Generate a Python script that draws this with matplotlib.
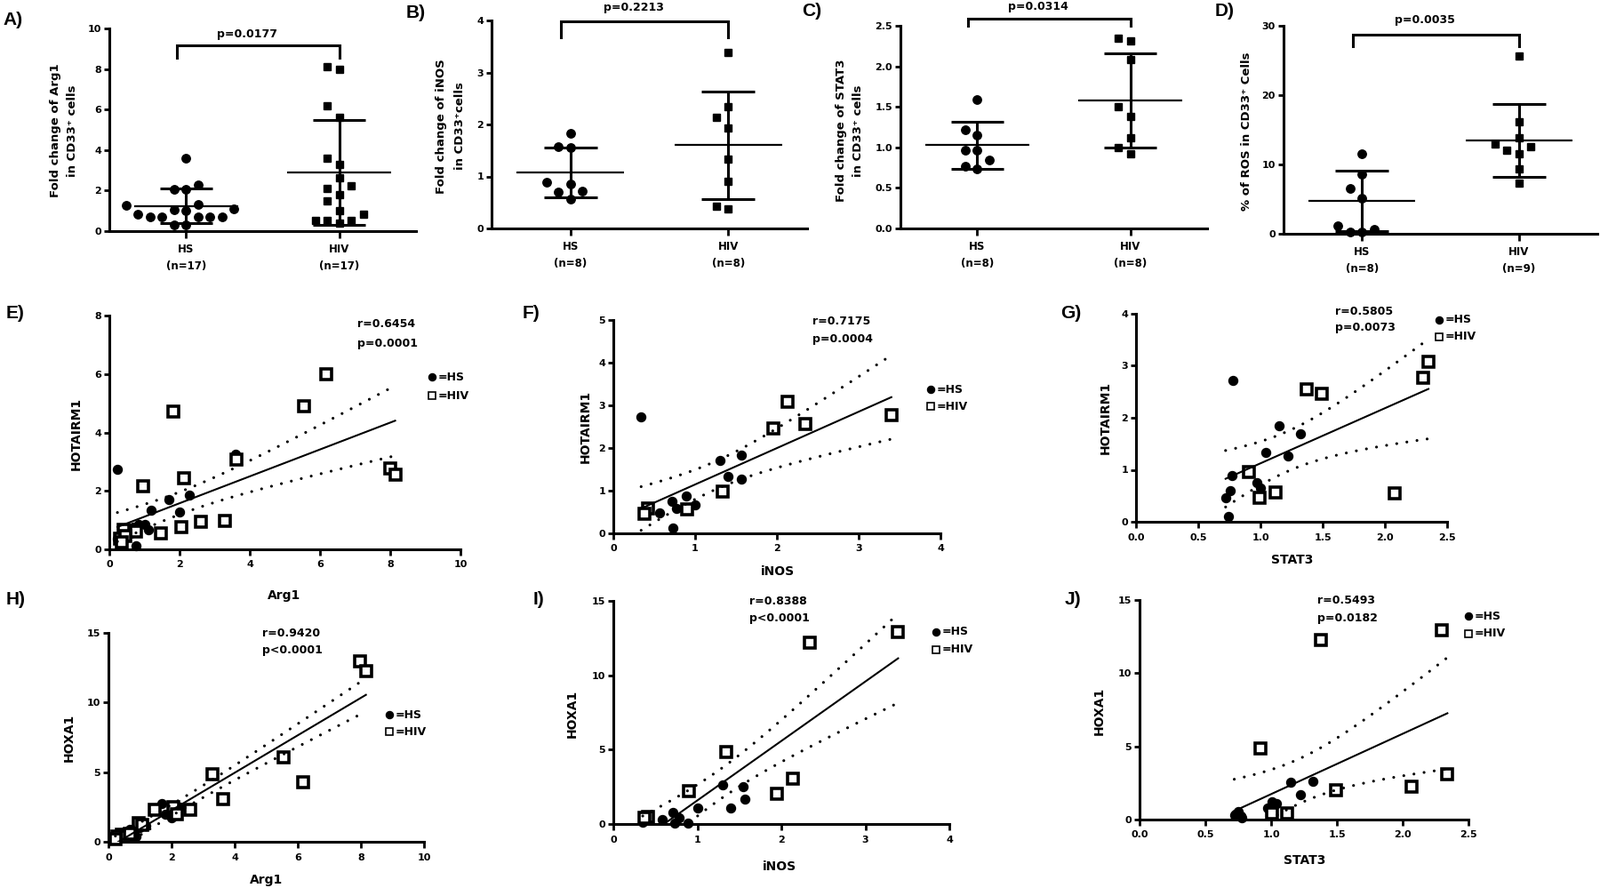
import numpy as np
import matplotlib
matplotlib.use("Agg")
from matplotlib import pyplot as plt

W, H = 1800, 999

# ---- top row: HS vs HIV dot plots (mean +/- SD) ----
groups = ["HS", "HIV"]

arg1_hs = [3.6, 2.3, 2.07, 2.04, 1.27, 1.31, 1.05, 1.02, 1.1, 0.7, 0.7, 0.7, 0.7, 0.7, 0.85, 0.32, 0.32]
arg1_hiv = [8.0, 8.1, 6.2, 5.62, 3.6, 3.31, 2.63, 2.22, 2.12, 1.82, 1.5, 1.02, 0.85, 0.51, 0.41, 0.51, 0.51]
arg1_mean = [1.24, 2.88]
arg1_sd = [0.85, 2.59]

inos_hs = [1.83, 1.55, 1.57, 0.89, 0.85, 0.72, 0.70, 0.57]
inos_hiv = [3.38, 2.34, 2.13, 1.94, 1.34, 0.90, 0.42, 0.38]
inos_mean = [1.08, 1.60]
inos_sd = [0.48, 1.04]

stat3_hs = [1.59, 1.22, 1.15, 0.97, 0.97, 0.84, 0.77, 0.73]
stat3_hiv = [2.35, 2.31, 2.08, 1.50, 1.38, 1.12, 1.00, 0.92]
stat3_mean = [1.03, 1.58]
stat3_sd = [0.29, 0.585]

ros_hs = [11.5, 8.6, 6.5, 5.1, 1.2, 0.6, 0.2, 0.2]
ros_hiv = [25.7, 16.2, 13.8, 12.9, 12.5, 12.0, 11.5, 9.4, 7.3]
ros_mean = [4.79, 13.46]
ros_sd = [4.36, 5.26]

# ---- correlation panels: (x, y) per group ----
e_hs_x = [0.24, 3.59, 2.28, 1.69, 1.99, 1.19, 1.02, 1.11, 0.83, 0.68, 0.75, 0.32, 0.45, 0.54, 0.23, 0.39, 0.61]
e_hs_y = [2.73, 3.24, 1.85, 1.70, 1.29, 1.35, 0.86, 0.66, 0.86, 0.76, 0.13, 0.51, 0.61, 0.71, 0.35, 0.44, 0.56]
e_hiv_x = [6.18, 5.55, 1.83, 3.62, 2.13, 0.97, 8.01, 8.14, 3.29, 2.60, 2.06, 1.48, 0.77, 0.41, 0.30, 0.45, 0.35]
e_hiv_y = [6.0, 4.89, 4.71, 3.07, 2.43, 2.15, 2.78, 2.56, 0.96, 0.93, 0.76, 0.56, 0.61, 0.66, 0.35, 0.45, 0.25]

f_hs_x = [0.34, 1.30, 1.56, 1.40, 1.57, 0.89, 1.00, 0.72, 0.77, 0.57, 0.73]
f_hs_y = [2.72, 1.70, 1.84, 1.34, 1.28, 0.88, 0.66, 0.76, 0.59, 0.47, 0.12]
f_hiv_x = [2.13, 1.96, 2.35, 3.40, 1.34, 0.90, 0.42, 0.38]
f_hiv_y = [3.08, 2.45, 2.56, 2.78, 0.97, 0.56, 0.58, 0.45]

g_hs_x = [0.78, 1.15, 1.32, 1.04, 1.22, 0.77, 0.97, 1.00, 0.76, 0.72, 0.74]
g_hs_y = [2.72, 1.84, 1.70, 1.34, 1.27, 0.89, 0.75, 0.65, 0.59, 0.46, 0.11]
g_hiv_x = [2.35, 2.31, 1.37, 1.49, 0.91, 1.12, 0.99, 2.08]
g_hiv_y = [3.07, 2.77, 2.54, 2.46, 0.96, 0.56, 0.46, 0.55]

h_hs_x = [1.69, 2.0, 1.8, 3.62, 2.25, 1.19, 0.98, 0.78, 0.63, 0.48, 0.32, 0.68, 0.88]
h_hs_y = [2.74, 1.70, 1.96, 3.02, 2.49, 1.15, 1.0, 0.68, 0.47, 0.30, 0.21, 0.89, 0.36]
h_hiv_x = [7.98, 8.16, 5.55, 6.18, 3.29, 3.62, 2.58, 1.46, 2.05, 2.17, 0.95, 1.06, 0.43, 0.29, 0.56, 0.22, 0.68]
h_hiv_y = [12.98, 12.28, 6.04, 4.30, 4.87, 3.06, 2.28, 2.28, 2.49, 2.0, 1.32, 1.2, 0.51, 0.36, 0.36, 0.21, 0.57]

i_hs_x = [1.30, 1.55, 1.57, 1.40, 1.0, 0.71, 0.78, 0.58, 0.35, 0.89, 0.73]
i_hs_y = [2.63, 2.49, 1.69, 1.10, 1.10, 0.80, 0.40, 0.30, 0.14, 0.06, 0.06]
i_hiv_x = [3.39, 2.34, 1.34, 0.90, 1.95, 2.14, 0.41, 0.37]
i_hiv_y = [12.9, 12.2, 4.84, 2.23, 2.05, 3.05, 0.46, 0.40]

j_hs_x = [1.15, 1.32, 1.22, 1.01, 1.04, 0.97, 0.75, 0.73, 0.77, 0.78, 0.72]
j_hs_y = [2.54, 2.64, 1.72, 1.22, 1.12, 0.77, 0.57, 0.34, 0.26, 0.14, 0.30]
j_hiv_x = [2.30, 1.38, 0.92, 2.34, 1.49, 2.07, 1.12, 1.01]
j_hiv_y = [12.92, 12.27, 4.87, 3.08, 2.0, 2.27, 0.45, 0.41]

plt.rcParams['font.family'] = ['DejaVu Sans']
plt.rcParams['font.weight'] = 'bold'

fig = plt.figure(figsize=(W / 100, H / 100), dpi=100)


def add_axes(left, top, right, bottom):
    # box given in pixels of the final image
    ax = fig.add_axes([left / W, 1 - bottom / H, (right - left) / W, (bottom - top) / H])
    for side in ("top", "right"):
        ax.spines[side].set_visible(False)
    for side in ("left", "bottom"):
        ax.spines[side].set_linewidth(2.2)
    ax.tick_params(direction="out", length=4.5, width=2, labelsize=8, pad=2)
    return ax


def fig_text(x, y, s, **kw):
    fig.text(x / W, 1 - y / H, s, fontweight="bold", **kw)


def swarm(vals, px_per_y, px_per_x, size=13.5):
    """x offsets so that markers don't overlap (like a prism scatter dot plot)"""
    ys = np.asarray(vals, float) * px_per_y
    offsets = np.zeros(len(ys))
    steps = [0.0]
    for k in range(1, 15):
        steps += [-k * size, k * size]
    placed = []
    for i in np.argsort(ys, kind="stable"):
        for c in steps:
            if all((c - px) ** 2 + (ys[i] - py) ** 2 >= size ** 2 for px, py in placed):
                break
        placed.append((c, ys[i]))
        offsets[i] = c / px_per_x
    return offsets


def dot_plot(box, hs, hiv, mean, sd, ymax, yticks, yfmt, bracket, p_text):
    left, top, right, bottom = box
    ax = add_axes(*box)
    ax.set_xlim(0.5, 2.5)
    ax.set_ylim(0, ymax)
    py = (bottom - top) / ymax
    px = (right - left) / 2.0
    for i, (vals, mk, ms) in enumerate([(hs, "o", 6.8), (hiv, "s", 6.2)]):
        xc = i + 1
        ax.plot(xc + swarm(vals, py, px), vals, ls="none", marker=mk, ms=ms,
                color="black", clip_on=False, zorder=3)
        m, s = mean[i], sd[i]
        ax.hlines(m, xc - 0.34, xc + 0.34, color="black", lw=1.6, zorder=4)
        ax.vlines(xc, m - s, m + s, color="black", lw=2.2, zorder=4)
        ax.hlines([m - s, m + s], xc - 0.17, xc + 0.17, color="black", lw=2.2, zorder=4)
    ax.set_xticks([1, 2])
    ax.set_xticklabels([f"{g}\n(n={len(v)})" for g, v in zip(groups, (hs, hiv))],
                       linespacing=1.6, fontsize=8.5)
    ax.tick_params(axis="x", length=6, pad=4)
    ax.set_yticks(yticks)
    ax.set_yticklabels([yfmt.format(t) for t in yticks])
    leg, top_y, text_y = bracket
    ax.plot([0.94, 0.94, 2.0, 2.0], [leg, top_y, top_y, leg], color="black", lw=2.2,
            clip_on=False, solid_joinstyle="miter")
    ax.text(1.4, text_y, p_text, ha="center", va="center", fontsize=9,
            fontweight="bold", clip_on=False)
    return ax


def fit_bands(x, y, n_pts=120):
    # linear regression with 95% confidence band of the fitted line
    x = np.asarray(x, float)
    y = np.asarray(y, float)
    n = len(x)
    slope, icpt = np.polyfit(x, y, 1)
    xs = np.linspace(x.min(), x.max(), n_pts)
    yhat = icpt + slope * xs
    resid = y - (icpt + slope * x)
    s = np.sqrt(np.sum(resid ** 2) / (n - 2))
    sxx = np.sum((x - x.mean()) ** 2)
    df = n - 2
    z = 1.959964
    t = z + (z ** 3 + z) / (4 * df) + (5 * z ** 5 + 16 * z ** 3 + 3 * z) / (96 * df ** 2)
    half = t * s * np.sqrt(1 / n + (xs - x.mean()) ** 2 / sxx)
    return xs, yhat, yhat - half, yhat + half


def scatter_panel(box, hs_x, hs_y, hiv_x, hiv_y, xmax, xticks, xfmt, ymax, yticks,
                  stats, stat_pos, leg_pos):
    ax = add_axes(*box)
    w_px = box[2] - box[0]
    ax.set_xlim(0, xmax)
    ax.set_ylim(0, ymax)
    ax.plot(hs_x, hs_y, ls="none", marker="o", ms=7.2, color="black", clip_on=False, zorder=3)
    ax.plot(hiv_x, hiv_y, ls="none", marker="s", ms=8, mfc="white", mec="black",
            mew=2.6, clip_on=False, zorder=4)
    xs, yhat, lo, hi = fit_bands(list(hs_x) + list(hiv_x), list(hs_y) + list(hiv_y))
    ax.plot(xs, yhat, color="black", lw=1.5, zorder=5)
    for band in (lo, hi):
        ax.plot(xs, band, color="black", lw=2.3, ls=(0, (0.01, 3.6)),
                dash_capstyle="round", zorder=5)
    ax.set_xticks(xticks)
    ax.set_xticklabels([xfmt.format(t) for t in xticks])
    ax.tick_params(axis="x", length=5, pad=4)
    ax.set_yticks(yticks)
    ax.set_yticklabels([str(t) for t in yticks])

    sx, ry, py = stat_pos
    ax.text(sx, ry, stats[0], transform=ax.transAxes, ha="left", va="center", fontsize=9)
    ax.text(sx, py, stats[1], transform=ax.transAxes, ha="left", va="center", fontsize=9)

    lx, ly1, ly2 = leg_pos
    ax.plot([lx], [ly1], marker="o", ms=5.8, color="black", transform=ax.transAxes, clip_on=False)
    ax.plot([lx], [ly2], marker="s", ms=6, mfc="white", mec="black", mew=1.2,
            transform=ax.transAxes, clip_on=False)
    ax.text(lx + 7 / w_px, ly1, "=HS", transform=ax.transAxes, ha="left", va="center", fontsize=9)
    ax.text(lx + 7 / w_px, ly2, "=HIV", transform=ax.transAxes, ha="left", va="center", fontsize=9)
    return ax


# top row
dot_plot((123, 32, 468, 260), arg1_hs, arg1_hiv, arg1_mean, arg1_sd, 10, [0, 2, 4, 6, 8, 10],
         "{:g}", (8.55, 9.17, 9.71), "p=0.0177")
dot_plot((553, 23, 908, 257), inos_hs, inos_hiv, inos_mean, inos_sd, 4, [0, 1, 2, 3, 4],
         "{:g}", (3.68, 3.98, 4.24), "p=0.2213")
dot_plot((1013, 29, 1358, 257), stat3_hs, stat3_hiv, stat3_mean, stat3_sd, 2.5,
         [0, 0.5, 1.0, 1.5, 2.0, 2.5], "{:.1f}", (2.50, 2.59, 2.74), "p=0.0314")
dot_plot((1444, 29, 1797, 263), ros_hs, ros_hiv, ros_mean, ros_sd, 30, [0, 10, 20, 30],
         "{:g}", (27.1, 28.7, 30.85), "p=0.0035")

fig_text(72, 147, "Fold change of Arg1\nin CD33\u207a cells", rotation=90, ha="center",
         va="center", fontsize=9.5, linespacing=1.6)
fig_text(507, 142, "Fold change of iNOS\nin CD33\u207acells", rotation=90, ha="center",
         va="center", fontsize=9.5, linespacing=1.75)
fig_text(956, 147, "Fold change of STAT3\nin CD33\u207a cells", rotation=90, ha="center",
         va="center", fontsize=9.5, linespacing=1.65)
fig_text(1402, 148, "% of ROS in CD33\u207a Cells", rotation=90, ha="center",
         va="center", fontsize=9.5)

# middle row: HOTAIRM1
scatter_panel((123, 355, 518, 618), e_hs_x, e_hs_y, e_hiv_x, e_hiv_y, 10, [0, 2, 4, 6, 8, 10],
              "{:g}", 8, [0, 2, 4, 6, 8], ("r=0.6454", "p=0.0001"),
              (0.706, 0.962, 0.880), (0.918, 0.737, 0.656))
scatter_panel((690, 360, 1058, 600), f_hs_x, f_hs_y, f_hiv_x, f_hiv_y, 4, [0, 1, 2, 3, 4],
              "{:g}", 5, [0, 1, 2, 3, 4, 5], ("r=0.7175", "p=0.0004"),
              (0.609, 0.993, 0.912), (0.969, 0.674, 0.594))
scatter_panel((1278, 353, 1628, 587), g_hs_x, g_hs_y, g_hiv_x, g_hiv_y, 2.5,
              [0, 0.5, 1.0, 1.5, 2.0, 2.5], "{:.1f}", 4, [0, 1, 2, 3, 4],
              ("r=0.5805", "p=0.0073"), (0.64, 1.011, 0.932), (0.973, 0.972, 0.891))

# bottom row: HOXA1
scatter_panel((122, 712, 477, 947), h_hs_x, h_hs_y, h_hiv_x, h_hiv_y, 10, [0, 2, 4, 6, 8, 10],
              "{:g}", 15, [0, 5, 10, 15], ("r=0.9420", "p<0.0001"),
              (0.486, 1.0, 0.919), (0.889, 0.607, 0.526))
scatter_panel((690, 676, 1068, 927), i_hs_x, i_hs_y, i_hiv_x, i_hiv_y, 4, [0, 1, 2, 3, 4],
              "{:g}", 15, [0, 5, 10, 15], ("r=0.8388", "p<0.0001"),
              (0.404, 1.0, 0.923), (0.960, 0.861, 0.781))
scatter_panel((1282, 675, 1652, 922), j_hs_x, j_hs_y, j_hiv_x, j_hiv_y, 2.5,
              [0, 0.5, 1.0, 1.5, 2.0, 2.5], "{:.1f}", 15, [0, 5, 10, 15],
              ("r=0.5493", "p=0.0182"), (0.54, 0.997, 0.916), (1.0, 0.926, 0.847))

# axis titles of the correlation panels
for x, y, s in [(86, 488, "HOTAIRM1"), (659, 480, "HOTAIRM1"), (1244, 470, "HOTAIRM1"),
                (78, 830, "HOXA1"), (644, 803, "HOXA1"), (1237, 800, "HOXA1")]:
    fig_text(x, y, s, rotation=90, ha="center", va="center", fontsize=10)
for x, y, s in [(320, 670, "Arg1"), (875, 643, "iNOS"), (1454, 630, "STAT3"),
                (300, 990, "Arg1"), (877, 975, "iNOS"), (1468, 968, "STAT3")]:
    fig_text(x, y, s, ha="center", va="center", fontsize=10)

# panel letters
for x, y, s in [(3, 23, "A)"), (457, 15, "B)"), (902, 12, "C)"), (1367, 12, "D)"),
                (7, 352, "E)"), (588, 352, "F)"), (1193, 352, "G)"),
                (7, 675, "H)"), (600, 675, "I)"), (1198, 675, "J)")]:
    fig_text(x, y, s, ha="left", va="center", fontsize=15, family=["Liberation Sans", "DejaVu Sans"])

fig.savefig("out.png", dpi=100, facecolor="white")
